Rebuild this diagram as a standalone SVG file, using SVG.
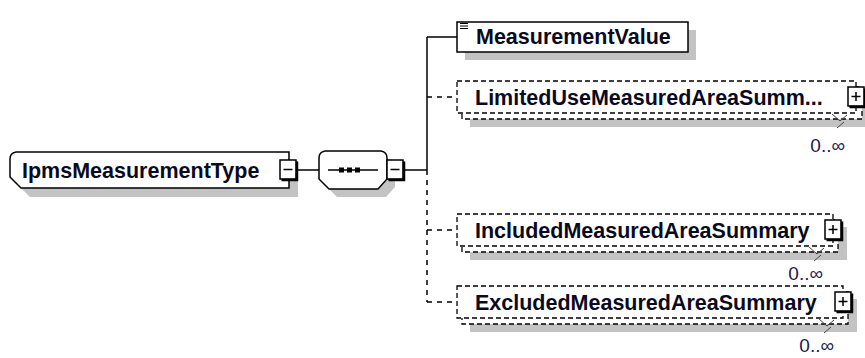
<svg xmlns="http://www.w3.org/2000/svg" width="865" height="358" viewBox="0 0 865 358">
  <style>
    .shadow { fill: #c3c3c3; }
    .box { fill: #fff; stroke: #000; stroke-width: 1.5; }
    .dbox { fill: #fff; stroke: #000; stroke-width: 1.3; stroke-dasharray: 5 3; }
    .lbl { font-family: "Liberation Sans", Arial, sans-serif; font-weight: bold; font-size: 21.5px; fill: #0a0a1e; }
    .occ { font-family: "Liberation Sans", "DejaVu Sans", sans-serif; font-size: 19px; fill: #1e2050; text-anchor: end; }
    .wire { fill: none; stroke: #000; stroke-width: 1.5; }
    .wire-d { fill: none; stroke: #000; stroke-width: 1.5; stroke-dasharray: 5 5; }
    .tick { fill: none; stroke: #444; stroke-width: 1; }
  </style>
  <defs>
    <!-- collapse button -->
    <g id="btnMinus">
      <rect x="0" y="0" width="16" height="19" fill="#fff" stroke="#000" stroke-width="1.5"/>
      <path d="M17,1.5 V20 H1.5" fill="none" stroke="#000" stroke-width="2.5"/>
      <path d="M3.5,9.5 H12.5" stroke="#000" stroke-width="1.5"/>
    </g>
    <!-- expand button -->
    <g id="btnPlus">
      <rect x="0" y="0" width="16" height="19" fill="#fff" stroke="#000" stroke-width="1.5"/>
      <path d="M17,1.5 V20 H1.5" fill="none" stroke="#000" stroke-width="2.5"/>
      <path d="M3.5,9.5 H12.5 M8,5 V14" stroke="#000" stroke-width="1.5"/>
    </g>
  </defs>

  <!-- connectors -->
  <g id="connectors">
    <path class="wire" d="M297,170 H319"/>
    <path class="wire" d="M405,170 H427"/>
    <path class="wire" d="M427,37 V170 M427,37 H457"/>
    <path class="wire-d" d="M427,170 V302"/>
    <path class="wire-d" d="M427,97 H457 M427,230 H457 M427,302 H457"/>
  </g>

  <!-- root complex type -->
  <g id="IpmsMeasurementType">
    <path class="shadow" d="M25,161 H298 V197 H30 L19,186 V168 Q19,162 25,161 Z"/>
    <path class="box" d="M16,152 H289 V188 H21 L10,177 V159 Q10,153 16,152 Z"/>
    <text class="lbl" x="22" y="178">IpmsMeasurementType</text>
    <use href="#btnMinus" x="280" y="160"/>
  </g>

  <!-- sequence compositor -->
  <g id="sequence">
    <path class="shadow" d="M333,159 H389 Q395,160 395,166 V187 L386,197 H337 L327,187 V166 Q327,160 333,159 Z"/>
    <path class="box" d="M325,151 H381 Q387,152 387,158 V179 L378,189 H329 L319,179 V158 Q319,152 325,151 Z"/>
    <path d="M328,170 H378" stroke="#000" stroke-width="1.5"/>
    <rect x="339" y="167.5" width="5" height="5" fill="#000"/>
    <rect x="347" y="167.5" width="5" height="5" fill="#000"/>
    <rect x="355" y="167.5" width="5" height="5" fill="#000"/>
    <use href="#btnMinus" x="387" y="160"/>
  </g>

  <!-- MeasurementValue -->
  <g id="MeasurementValue">
    <rect class="shadow" x="465" y="30" width="231" height="30"/>
    <rect class="box" x="457" y="22" width="231" height="30"/>
    <path d="M460,23.5 H468 M460,26 H468 M460,28.5 H468" stroke="#000" stroke-width="1.2"/>
    <text class="lbl" x="476" y="44">MeasurementValue</text>
  </g>

  <!-- LimitedUseMeasuredAreaSummary (0..unbounded) -->
  <g id="LimitedUseMeasuredAreaSummary">
    <rect class="shadow" x="470" y="94" width="400" height="33"/>
    <rect class="dbox" x="462" y="87" width="400" height="32"/>
    <rect class="dbox" x="457" y="81" width="399" height="32"/>
    <text class="lbl" x="475" y="105">LimitedUseMeasuredAreaSumm...</text>
    <use href="#btnPlus" x="848" y="87"/>
    <path class="tick" d="M832,114 L840,121 L847,115 M837,128 L844,122"/>
    <text class="occ" x="845" y="152">0..∞</text>
  </g>

  <!-- IncludedMeasuredAreaSummary (0..unbounded) -->
  <g id="IncludedMeasuredAreaSummary">
    <rect class="shadow" x="470" y="227" width="377" height="33"/>
    <rect class="dbox" x="462" y="220" width="376" height="32"/>
    <rect class="dbox" x="457" y="214" width="376" height="32"/>
    <text class="lbl" x="475" y="238">IncludedMeasuredAreaSummary</text>
    <use href="#btnPlus" x="825" y="220"/>
    <path class="tick" d="M809,247 L817,254 L824,248 M814,261 L821,255"/>
    <text class="occ" x="823" y="280">0..∞</text>
  </g>

  <!-- ExcludedMeasuredAreaSummary (0..unbounded) -->
  <g id="ExcludedMeasuredAreaSummary">
    <rect class="shadow" x="470" y="299" width="387" height="33"/>
    <rect class="dbox" x="462" y="292" width="386" height="32"/>
    <rect class="dbox" x="457" y="286" width="386" height="32"/>
    <text class="lbl" x="475" y="310">ExcludedMeasuredAreaSummary</text>
    <use href="#btnPlus" x="835" y="292"/>
    <path class="tick" d="M819,319 L827,326 L834,320 M824,333 L831,327"/>
    <text class="occ" x="834" y="352">0..∞</text>
  </g>
</svg>
